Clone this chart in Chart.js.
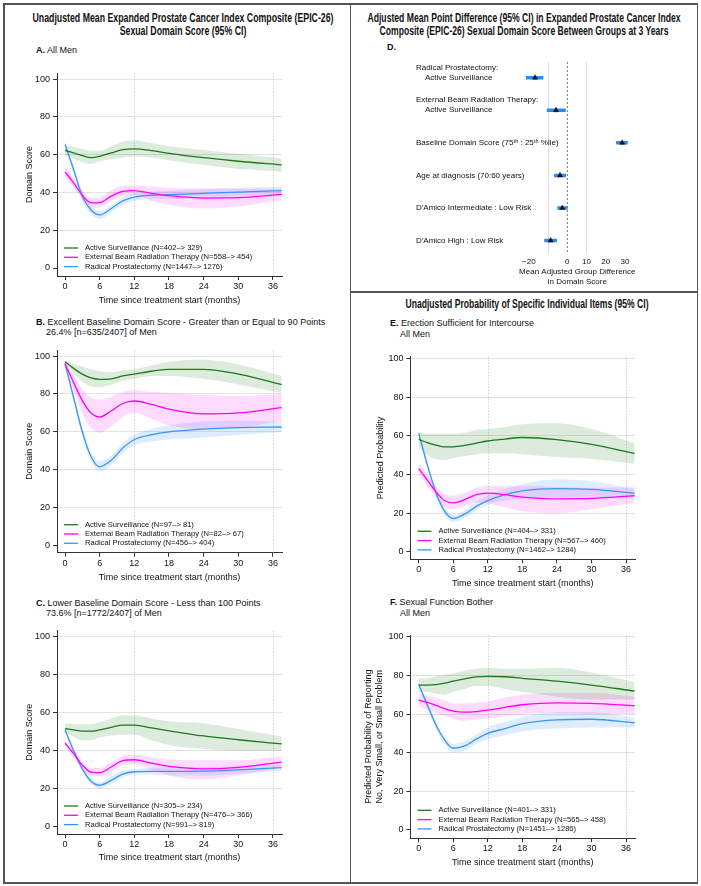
<!DOCTYPE html>
<html>
<head>
<meta charset="utf-8">
<script src="https://cdn.jsdelivr.net/npm/chart.js@4.4.0/dist/chart.umd.min.js"></script>
<style>
  body { margin: 0; background: #fff; }
  #fig { position: relative; width: 701px; height: 886px; background: #fff; overflow: hidden;
         font-family: "Liberation Sans", Arial, sans-serif; color: #111; }
  .line { position: absolute; background: #555; }
  .title { position: absolute; width: 600px; font-family: "Liberation Sans Narrow", "Arial Narrow", "Liberation Sans", sans-serif;
           font-weight: bold; font-size: 12px; line-height: 13px; text-align: center; white-space: nowrap;
           transform-origin: center top; }
  .head { position: absolute; font-size: 9px; line-height: 10.5px; white-space: nowrap; }
  canvas { position: absolute; }
</style>
</head>
<body>
<div id="fig">
  <!-- frame -->
  <div class="line" style="left:3px;top:3px;width:695px;height:1.5px"></div>
  <div class="line" style="left:3px;top:882px;width:695px;height:1.5px"></div>
  <div class="line" style="left:3px;top:3px;width:1.5px;height:881px"></div>
  <div class="line" style="left:696.5px;top:3px;width:1.5px;height:881px"></div>
  <div class="line" style="left:349.5px;top:3px;width:1.5px;height:881px"></div>
  <div class="line" style="left:350px;top:291px;width:348px;height:1.5px"></div>

  <!-- titles: each div is 600px wide and centred on its column -->
  <div class="title" data-w="301" style="left:-117px;top:12px">
    <span>Unadjusted Mean Expanded Prostate Cancer Index Composite (EPIC-26)</span><br><span>Sexual Domain Score (95% CI)</span>
  </div>
  <div class="title" data-w="313" style="left:223.5px;top:12px">
    <span>Adjusted Mean Point Difference (95% CI) in Expanded Prostate Cancer Index</span><br><span>Composite (EPIC-26) Sexual Domain Score Between Groups at 3 Years</span>
  </div>
  <div class="title" data-w="243" style="left:227px;top:298px">
    <span>Unadjusted Probability of Specific Individual Items (95% CI)</span>
  </div>

  <div class="head" style="left:36px;top:44.5px"><b>A.</b> All Men</div>
  <div class="head" style="left:36px;top:316.5px"><b>B.</b> Excellent Baseline Domain Score - Greater than or Equal to 90 Points<br>&nbsp;&nbsp;&nbsp;&nbsp;26.4% [n=635/2407] of Men</div>
  <div class="head" style="left:36px;top:597.5px"><b>C.</b> Lower Baseline Domain Score - Less than 100 Points<br>&nbsp;&nbsp;&nbsp;&nbsp;73.6% [n=1772/2407] of Men</div>
  <div class="head" style="left:387px;top:41.5px"><b>D.</b></div>
  <div class="head" style="left:390px;top:318px"><b>E.</b> Erection Sufficient for Intercourse<br>&nbsp;&nbsp;&nbsp;&nbsp;All Men</div>
  <div class="head" style="left:390px;top:597px"><b>F.</b> Sexual Function Bother<br>&nbsp;&nbsp;&nbsp;&nbsp;All Men</div>
</div>

<script>
// ── Data ─────────────────────────────────────────
const months = [0, 1.5, 3, 4.5, 6, 8, 10, 12, 15, 18, 24, 30, 37.5];
const xTicks = [0, 6, 12, 18, 24, 30, 36];
const xGuides = [12, 36];
const yTicks = [0, 20, 40, 60, 80, 100];
const groups = ['Active Surveillance', 'External Beam Radiation Therapy', 'Radical Prostatectomy'];

// A. All men
const aN = ['(N=402\u2013> 329)', '(N=558\u2013> 454)', '(N=1447\u2013> 1276)'];
const aAS   = [62.3, 60.9, 59.5, 58.4, 59.1, 60.9, 62.6, 63.0, 62.1, 60.7, 58.4, 56.5, 54.6];
const aASlo = [59.5, 58.0, 56.0, 55.0, 56.5, 57.5, 58.5, 59.0, 58.5, 57.0, 54.5, 52.5, 51.0];
const aAShi = [65.0, 64.0, 63.0, 62.0, 62.0, 64.5, 67.0, 67.5, 66.0, 64.5, 62.5, 60.5, 58.0];
const aEB   = [50.9, 45.0, 38.5, 34.5, 34.6, 38.0, 40.5, 41.0, 39.5, 38.3, 37.0, 37.2, 39.0];
const aEBlo = [48.5, 42.5, 36.0, 31.5, 32.0, 35.5, 38.0, 38.5, 35.5, 33.5, 31.5, 32.5, 36.0];
const aEBhi = [53.5, 47.5, 41.0, 37.0, 37.5, 41.0, 43.5, 43.5, 43.0, 42.5, 42.0, 42.0, 42.0];
const aRP   = [65.4, 52.0, 38.0, 30.7, 28.1, 31.5, 35.5, 37.5, 38.5, 38.8, 39.5, 40.2, 41.0];
const aRPlo = [63.5, 50.0, 36.0, 28.7, 26.0, 29.5, 33.5, 35.5, 36.5, 36.5, 37.0, 38.0, 39.0];
const aRPhi = [67.0, 54.0, 40.0, 32.7, 30.0, 33.5, 37.5, 39.5, 40.5, 41.0, 42.0, 42.5, 43.0];

// B. Excellent baseline
const bN = ['(N=97\u2013> 81)', '(N=82\u2013> 67)', '(N=456\u2013> 404)'];
const bAS   = [97.0, 93.5, 90.5, 88.5, 87.7, 88.0, 89.5, 90.5, 92.0, 93.0, 93.0, 90.5, 85.0];
const bASlo = [96.5, 91.0, 86.5, 84.0, 83.5, 85.0, 87.0, 88.0, 89.5, 89.5, 88.0, 85.0, 80.5];
const bAShi = [97.5, 96.0, 94.5, 93.0, 92.0, 91.5, 92.5, 93.0, 95.0, 97.0, 98.0, 95.5, 89.5];
const bEB   = [96.0, 86.0, 76.5, 70.0, 67.9, 71.0, 75.0, 76.3, 74.5, 72.0, 69.5, 70.0, 72.8];
const bEBlo = [95.0, 82.0, 70.0, 62.0, 59.5, 63.0, 68.0, 70.0, 67.0, 63.5, 61.5, 62.0, 66.0];
const bEBhi = [97.0, 90.0, 82.5, 78.0, 77.0, 78.5, 81.0, 82.0, 81.0, 80.5, 79.5, 79.0, 80.0];
const bRP   = [96.0, 78.0, 60.0, 47.0, 41.6, 45.0, 51.5, 56.0, 58.5, 60.0, 61.5, 62.3, 62.6];
const bRPlo = [95.0, 76.0, 57.5, 44.5, 39.0, 42.5, 49.0, 53.0, 55.0, 56.0, 57.0, 58.5, 60.0];
const bRPhi = [97.0, 80.0, 62.5, 49.5, 44.5, 47.5, 54.0, 58.5, 61.5, 63.5, 65.5, 66.0, 65.5];

// C. Lower baseline
const cN = ['(N=305\u2013> 234)', '(N=476\u2013> 366)', '(N=991\u2013> 819)'];
const cAS   = [51.7, 51.0, 50.3, 50.3, 51.0, 52.3, 53.5, 53.5, 52.0, 50.5, 47.8, 45.8, 43.6];
const cASlo = [49.5, 47.5, 45.5, 45.5, 47.0, 48.0, 48.5, 48.5, 45.5, 43.0, 41.0, 40.0, 40.0];
const cAShi = [54.5, 54.0, 54.0, 54.0, 55.0, 57.0, 58.5, 58.5, 57.0, 55.5, 54.5, 51.5, 47.5];
const cEB   = [44.0, 38.5, 32.5, 28.8, 28.5, 31.5, 34.8, 35.3, 33.5, 31.8, 30.5, 31.3, 34.1];
const cEBlo = [42.5, 36.5, 30.5, 26.5, 26.5, 29.0, 32.5, 33.0, 30.0, 27.0, 25.0, 27.0, 31.5];
const cEBhi = [45.5, 40.5, 34.5, 31.0, 31.0, 34.0, 37.5, 38.0, 36.5, 35.5, 35.0, 35.0, 37.0];
const cRP   = [51.0, 40.0, 30.5, 24.0, 21.9, 24.5, 27.8, 29.0, 29.2, 29.2, 29.3, 30.0, 31.2];
const cRPlo = [50.0, 38.5, 29.0, 22.5, 20.0, 22.5, 26.0, 27.5, 27.5, 27.0, 27.0, 28.0, 29.5];
const cRPhi = [52.0, 41.5, 32.0, 25.5, 23.5, 26.5, 29.5, 30.5, 31.0, 31.5, 31.5, 32.0, 33.0];

// E. Erection sufficient for intercourse
const eN = ['(N=404\u2013> 331)', '(N=567\u2013> 460)', '(N=1462\u2013> 1284)'];
const eAS   = [58.1, 56.5, 55.2, 54.3, 54.3, 55.0, 56.2, 57.3, 58.3, 59.1, 58.0, 55.5, 50.9];
const eASlo = [54.5, 50.0, 48.0, 47.5, 48.5, 49.5, 50.5, 51.0, 51.0, 50.5, 49.0, 48.0, 45.5];
const eAShi = [62.0, 61.0, 61.0, 61.0, 61.0, 61.5, 63.0, 63.5, 64.5, 66.0, 66.5, 63.5, 56.0];
const eEB   = [43.1, 37.0, 31.0, 26.5, 25.3, 27.0, 29.5, 30.3, 29.5, 28.3, 27.4, 27.6, 29.0];
const eEBlo = [40.0, 34.0, 28.0, 23.0, 22.0, 23.5, 25.5, 25.0, 23.0, 21.0, 20.0, 22.0, 25.5];
const eEBhi = [46.0, 40.0, 34.0, 30.0, 29.0, 30.5, 33.0, 34.0, 34.0, 34.0, 33.5, 33.0, 33.5];
const eRP   = [61.2, 45.0, 30.5, 21.0, 17.2, 19.5, 23.5, 26.5, 29.5, 31.5, 32.7, 32.3, 30.3];
const eRPlo = [59.5, 43.0, 28.5, 19.0, 15.5, 17.5, 21.5, 24.5, 26.5, 27.5, 28.0, 28.5, 28.0];
const eRPhi = [63.0, 47.0, 32.5, 23.0, 19.0, 21.5, 26.0, 29.0, 32.5, 35.0, 37.5, 36.5, 32.5];

// F. Sexual function bother
const fN = ['(N=401\u2013> 331)', '(N=565\u2013> 458)', '(N=1451\u2013> 1286)'];
const fAS   = [75.0, 75.0, 75.2, 76.0, 77.0, 78.2, 79.2, 79.5, 79.3, 78.5, 77.0, 75.0, 71.9];
const fASlo = [71.5, 71.5, 70.5, 70.0, 71.5, 73.0, 74.5, 74.5, 73.0, 71.5, 69.0, 67.5, 67.5];
const fAShi = [78.5, 78.5, 79.5, 80.5, 81.0, 82.5, 83.5, 84.0, 83.5, 83.5, 84.0, 81.5, 76.5];
const fEB   = [67.2, 66.0, 64.5, 62.8, 61.5, 61.0, 61.3, 62.0, 63.5, 64.8, 65.8, 65.5, 64.3];
const fEBlo = [64.0, 62.5, 60.5, 59.0, 57.5, 56.5, 57.0, 57.5, 59.0, 60.0, 60.5, 60.0, 60.0];
const fEBhi = [70.5, 69.5, 68.5, 67.0, 65.5, 65.5, 66.0, 66.5, 68.5, 70.0, 71.0, 71.0, 69.0];
const fRP   = [75.3, 64.7, 54.3, 46.6, 42.3, 43.5, 47.0, 50.0, 52.5, 55.0, 57.0, 57.3, 55.5];
const fRPlo = [74.0, 62.7, 52.3, 44.6, 40.0, 41.0, 44.5, 47.0, 49.0, 51.0, 52.5, 53.0, 53.0];
const fRPhi = [76.5, 66.7, 56.3, 48.6, 44.5, 46.0, 49.5, 53.0, 56.0, 58.5, 61.0, 61.0, 58.0];

// D. Adjusted differences at 3 years
const dLabels = [
  ['Radical Prostatectomy:', '    Active Surveillance', ''],
  ['External Beam Radiation Therapy:', '    Active Surveillance', ''],
  'Baseline Domain Score (75\u1d57\u02b0 : 25\u1d57\u02b0 %ile)',
  'Age at diagnosis (70:60 years)',
  "D'Amico Intermediate : Low Risk",
  "D'Amico High : Low Risk"
];
const dEst = [-16.8, -5.9, 28.6, -3.8, -2.6, -8.7];
const dLo  = [-21.5, -10.7, 25.4, -6.9, -5.2, -12.0];
const dHi  = [-12.5, -0.8, 31.5, -0.7, 0.2, -5.4];
const dTicks = [-20, -10, 0, 10, 20, 30];

// ── Styling ──────────────────────────────────────
const green = '#1b7a1b', magenta = '#ff00ff', blue = '#3a96f5';
const greenBand = 'rgba(40,130,40,0.16)', magentaBand = 'rgba(255,0,255,0.14)', blueBand = 'rgba(60,150,245,0.17)';
const FAMILY = '"Liberation Sans", Arial, sans-serif';
Chart.defaults.font.family = FAMILY;
Chart.defaults.color = '#111';
Chart.defaults.animation = false;

const fig = document.getElementById('fig');

function addCanvas(box) {
  const c = document.createElement('canvas');
  c.width = box.w; c.height = box.h;
  c.style.left = box.x + 'px'; c.style.top = box.y + 'px';
  fig.appendChild(c);
  return c;
}

const pts = arr => months.map((m, i) => ({ x: m, y: arr[i] }));

// legend drawn inside the plot, lower left
const insideLegend = {
  id: 'insideLegend',
  afterDatasetsDraw(chart, args, opts) {
    if (!opts.rows) return;
    const { ctx, chartArea: a } = chart;
    ctx.save();
    ctx.font = '7.6px ' + FAMILY;
    ctx.textBaseline = 'middle';
    chart.data.datasets.filter(d => d.label).forEach((d, i) => {
      const y = a.bottom - opts.rows[i];
      ctx.strokeStyle = d.borderColor;
      ctx.lineWidth = 1.3;
      ctx.beginPath(); ctx.moveTo(a.left + 7, y); ctx.lineTo(a.left + 21, y); ctx.stroke();
      ctx.fillStyle = '#111';
      ctx.fillText(d.label, a.left + 28, y);
    });
    ctx.restore();
  }
};

// dotted vertical guides (1 and 3 years)
const guides = {
  id: 'guides',
  beforeDatasetsDraw(chart, args, opts) {
    if (!opts.at) return;
    const { ctx, chartArea: a } = chart;
    ctx.save();
    ctx.strokeStyle = '#c8c8c8'; ctx.lineWidth = 0.8; ctx.setLineDash([1.5, 1.5]);
    opts.at.forEach(v => {
      const x = Math.round(chart.scales.x.getPixelForValue(v)) + 0.5;
      ctx.beginPath(); ctx.moveTo(x, a.top); ctx.lineTo(x, a.bottom); ctx.stroke();
    });
    ctx.restore();
  }
};

const zeroLine = {
  id: 'zeroLine',
  beforeDatasetsDraw(chart, args, opts) {
    if (!opts.on) return;
    const { ctx, chartArea: a } = chart;
    const x = chart.scales.x.getPixelForValue(0);
    ctx.save();
    ctx.strokeStyle = '#555'; ctx.lineWidth = 0.8; ctx.setLineDash([2, 2]);
    ctx.beginPath(); ctx.moveTo(x, a.top); ctx.lineTo(x, a.bottom); ctx.stroke();
    ctx.restore();
  }
};

// ── Curve panels (A, B, C, E, F) ─────────────────
function curveChart(p) {
  const { box, area } = p;
  const font = { size: 9, lineHeight: 1.2 };
  const lh = 10.8;
  const datasets = [];
  p.series.forEach(s => {
    datasets.push({ label: '', data: pts(s.hi), borderWidth: 0, pointRadius: 0, fill: '+1',
      backgroundColor: s.band, cubicInterpolationMode: 'monotone', order: 1 });
    datasets.push({ label: '', data: pts(s.lo), borderWidth: 0, pointRadius: 0, fill: false,
      cubicInterpolationMode: 'monotone', order: 1 });
    datasets.push({ label: s.label, data: pts(s.mean), borderColor: s.color, borderWidth: 1.3,
      pointRadius: 0, fill: false, cubicInterpolationMode: 'monotone', order: 0 });
  });

  new Chart(addCanvas(box), {
    type: 'line',
    data: { datasets },
    plugins: [guides, insideLegend],
    options: {
      responsive: false,
      events: [],
      layout: { padding: { left: 0, top: area.t - box.y, right: box.x + box.w - area.r, bottom: 0 } },
      plugins: {
        legend: { display: false },
        tooltip: { enabled: false },
        guides: { at: xGuides },
        insideLegend: { rows: [28, 18.7, 9.4] }
      },
      scales: {
        x: {
          type: 'linear', min: p.xLim[0], max: p.xLim[1],
          afterBuildTicks: s => { s.ticks = xTicks.map(v => ({ value: v })); },
          afterFit: s => { s.height = box.y + box.h - area.b; },
          grid: { drawOnChartArea: false, tickColor: '#333', tickLength: 4 },
          border: { color: '#333', width: 1 },
          ticks: { font, color: '#111', padding: 1, maxRotation: 0, autoSkip: false },
          title: { display: true, text: 'Time since treatment start (months)', font, color: '#111',
            padding: { top: 0, bottom: box.y + box.h - p.xTitleY - lh / 2 } }
        },
        y: {
          min: p.yLim[0], max: p.yLim[1],
          afterBuildTicks: s => { s.ticks = yTicks.map(v => ({ value: v })); },
          afterFit: s => { s.width = area.l - box.x; },
          grid: {
            color: c => (c.tick && c.tick.value > 0) ? '#e2e2e2' : 'rgba(0,0,0,0)',
            tickColor: '#333', tickLength: 4
          },
          border: { color: '#333', width: 1 },
          ticks: { font, color: '#111', padding: 3 },
          title: { display: true, text: p.yTitle, font, color: '#111',
            padding: { top: p.yTitleX - box.x - lh / 2, bottom: 0 } }
        }
      }
    }
  });
}

function three(n, as, aslo, ashi, eb, eblo, ebhi, rp, rplo, rphi) {
  return [
    { label: groups[0] + ' ' + n[0], mean: as, lo: aslo, hi: ashi, color: green, band: greenBand },
    { label: groups[1] + ' ' + n[1], mean: eb, lo: eblo, hi: ebhi, color: magenta, band: magentaBand },
    { label: groups[2] + ' ' + n[2], mean: rp, lo: rplo, hi: rphi, color: blue, band: blueBand }
  ];
}

curveChart({
  box: { x: 5, y: 58, w: 340, h: 250 }, area: { l: 57, t: 73, r: 282, b: 276 },
  xLim: [-1.385, 37.56], yLim: [-4.23, 103.2], yTitle: 'Domain Score', yTitleX: 30, xTitleY: 301,
  series: three(aN, aAS, aASlo, aAShi, aEB, aEBlo, aEBhi, aRP, aRPlo, aRPhi)
});
curveChart({
  box: { x: 5, y: 335, w: 340, h: 250 }, area: { l: 57, t: 350, r: 282, b: 552.7 },
  xLim: [-1.385, 37.56], yLim: [-3.7, 103.2], yTitle: 'Domain Score', yTitleX: 30, xTitleY: 577.7,
  series: three(bN, bAS, bASlo, bAShi, bEB, bEBlo, bEBhi, bRP, bRPlo, bRPhi)
});
curveChart({
  box: { x: 5, y: 615, w: 340, h: 250 }, area: { l: 57, t: 630.5, r: 282, b: 834 },
  xLim: [-1.385, 37.56], yLim: [-3.7, 103.2], yTitle: 'Domain Score', yTitleX: 30, xTitleY: 857.7,
  series: three(cN, cAS, cASlo, cAShi, cEB, cEBlo, cEBhi, cRP, cRPlo, cRPhi)
});
curveChart({
  box: { x: 355, y: 340, w: 340, h: 252 }, area: { l: 410.5, t: 356.5, r: 635, b: 559.3 },
  xLim: [-1.42, 37.56], yLim: [-3.9, 101], yTitle: 'Predicted Probability', yTitleX: 381, xTitleY: 583.3,
  series: three(eN, eAS, eASlo, eAShi, eEB, eEBlo, eEBhi, eRP, eRPlo, eRPhi)
});
curveChart({
  box: { x: 355, y: 620, w: 340, h: 252 }, area: { l: 410.5, t: 635, r: 635, b: 838.3 },
  xLim: [-1.42, 37.56], yLim: [-4.3, 100.9],
  yTitle: ['Predicted Probability of Reporting', 'No, Very Small, or Small Problem'], yTitleX: 369, xTitleY: 862.7,
  series: three(fN, fAS, fASlo, fAShi, fEB, fEBlo, fEBhi, fRP, fRPlo, fRPhi)
});

// ── Forest panel (D) ─────────────────────────────
(function () {
  const box = { x: 360, y: 40, w: 336, h: 250 };
  const area = { l: 500, t: 62, r: 654.6, b: 253 };
  const labelLeft = 416;
  const font = { size: 8, lineHeight: 1.25 };
  const datasets = dEst.map((_, i) => ({
    label: '', data: [{ x: dLo[i], y: i + 1 }, { x: dHi[i], y: i + 1 }],
    borderColor: '#2a8cf0', borderWidth: 3.5, borderCapStyle: 'butt', pointRadius: 0, order: 1
  }));
  datasets.push({
    label: '', data: dEst.map((v, i) => ({ x: v, y: i + 1 })), showLine: false,
    pointStyle: 'triangle', pointRadius: 3, backgroundColor: '#111', borderColor: '#111', borderWidth: 0.5, order: 0
  });

  new Chart(addCanvas(box), {
    type: 'line',
    data: { datasets },
    plugins: [zeroLine],
    options: {
      responsive: false,
      events: [],
      layout: { padding: { left: labelLeft - box.x, top: area.t - box.y, right: box.x + box.w - area.r, bottom: 0 } },
      plugins: { legend: { display: false }, tooltip: { enabled: false }, zeroLine: { on: true } },
      scales: {
        x: {
          type: 'linear', min: (area.l - 567.3) / 1.92, max: (area.r - 567.3) / 1.92,
          afterBuildTicks: s => { s.ticks = dTicks.map(v => ({ value: v })); },
          afterFit: s => { s.height = box.y + box.h - area.b; },
          grid: { color: c => (c.tick && Math.abs(c.tick.value) === 10) ? '#dedede' : 'rgba(0,0,0,0)', drawTicks: false },
          border: { display: false },
          ticks: { font, color: '#111', padding: 3.6, maxRotation: 0, autoSkip: false,
            callback: v => v === -10 ? '' : (v < 0 ? '\u2212' + (-v) : String(v)) },
          title: { display: true, text: ['Mean Adjusted Group Difference', 'in Domain Score'], font, color: '#111',
            padding: { top: 0, bottom: 3 } }
        },
        y: {
          min: 0.52, max: 6.38, reverse: true,
          afterBuildTicks: s => { s.ticks = dLabels.map((_, i) => ({ value: i + 1 })); },
          afterFit: s => { s.width = area.l - labelLeft; },
          grid: { display: false, drawTicks: false },
          border: { display: false },
          // mirrored labels are not clipped to the axis box; the negative padding
          // pulls them back to the left edge of the label column
          ticks: { font, color: '#111', mirror: true, crossAlign: 'near', padding: labelLeft - area.l,
            autoSkip: false, callback: (v, i) => dLabels[i] }
        }
      }
    }
  });
})();

// fit the condensed bold titles to the measured widths
document.querySelectorAll('.title').forEach(el => {
  const w = el.querySelector('span').getBoundingClientRect().width;
  el.style.transform = 'scaleX(' + (+el.dataset.w / w) + ')';
});
</script>
</body>
</html>
